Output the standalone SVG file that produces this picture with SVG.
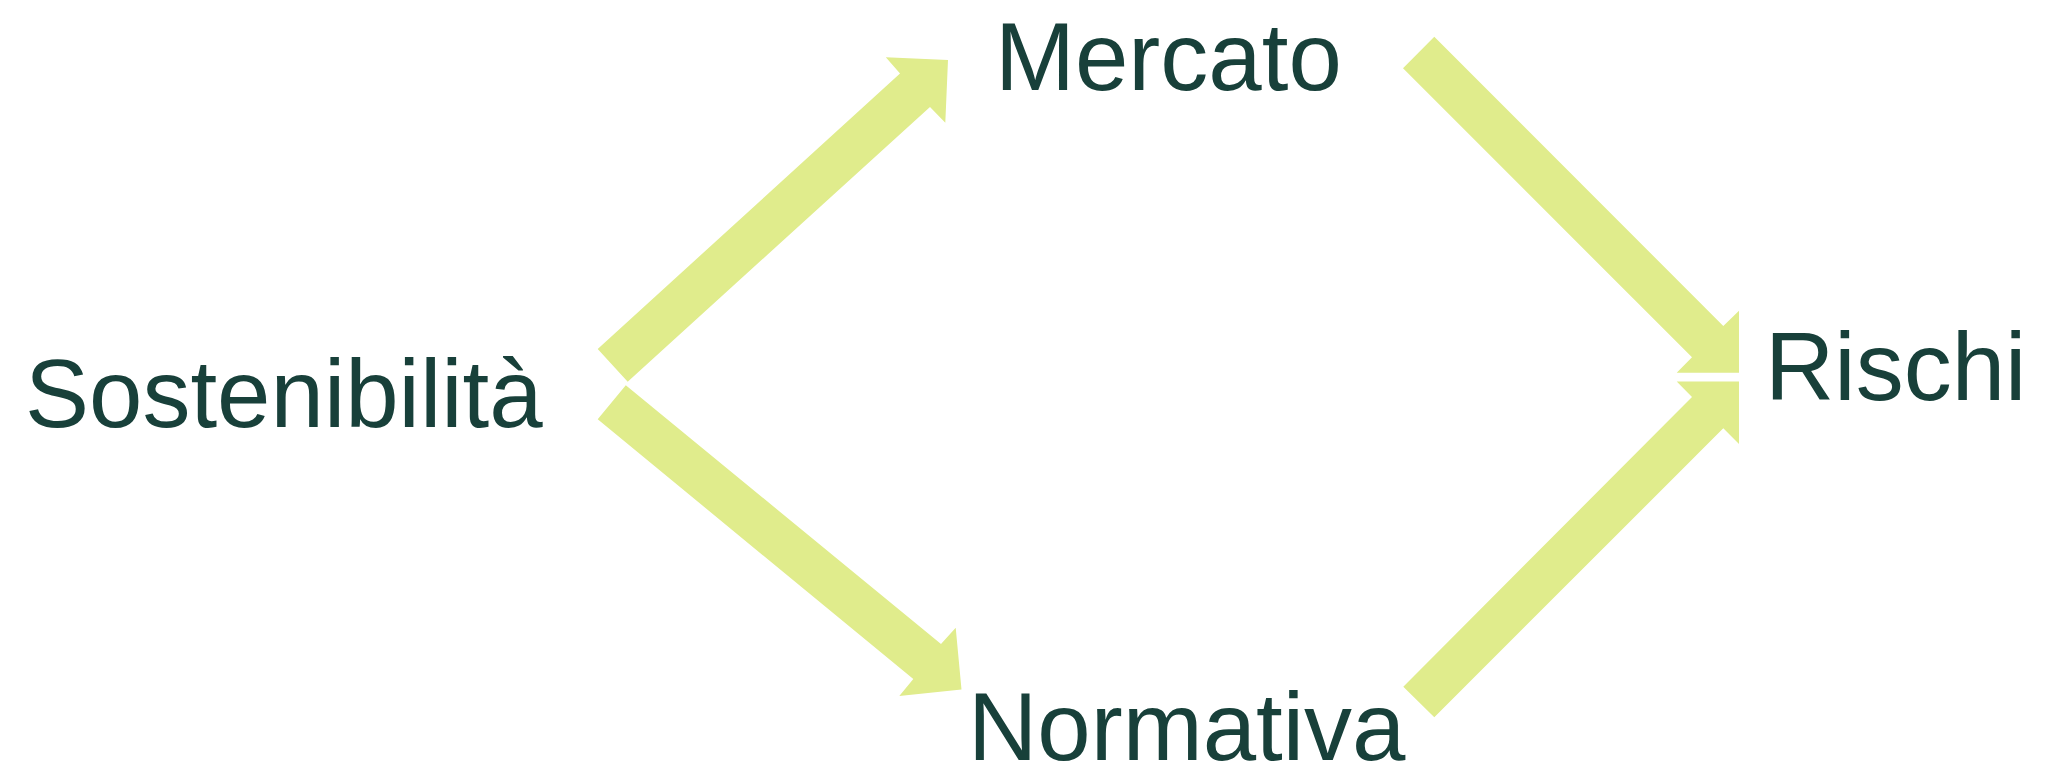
<svg xmlns="http://www.w3.org/2000/svg" width="2072" height="764" viewBox="0 0 2072 764">
<style>
.arrow{fill:#E0EC8C;stroke:none}
.lbl{font-family:"Liberation Sans",Arial,sans-serif;font-size:96px;fill:#18403A}
</style>
<rect x="0" y="0" width="2072" height="764" fill="#FFFFFF"/>
<g id="connectors">
<polygon class="arrow" points="597.7,349 900,73.5 885.8,57.3 948,60 945.3,122.7 930,107 627.7,381.7"/>
<polygon class="arrow" points="625.8,385.3 941,644 955.7,627.7 961.5,689.5 899.3,696 913.3,679 597.7,419.3"/>
<polygon class="arrow" points="1434.3,36.7 1723.3,326 1739,310.7 1739,372.7 1676.7,372.7 1692,357.3 1403,68.3"/>
<polygon class="arrow" points="1434.3,717.3 1723.3,428.3 1739,444 1739,381.5 1676.7,381.5 1692,397 1403.3,686.7"/>
</g>
<g id="node-sostenibilita"><text class="lbl" x="25" y="426.5">Sostenibilità</text></g>
<g id="node-mercato"><text class="lbl" x="995" y="90">Mercato</text></g>
<g id="node-rischi"><text class="lbl" x="1765" y="400">Rischi</text></g>
<g id="node-normativa"><text class="lbl" x="968" y="760">Normativa</text></g>
</svg>
